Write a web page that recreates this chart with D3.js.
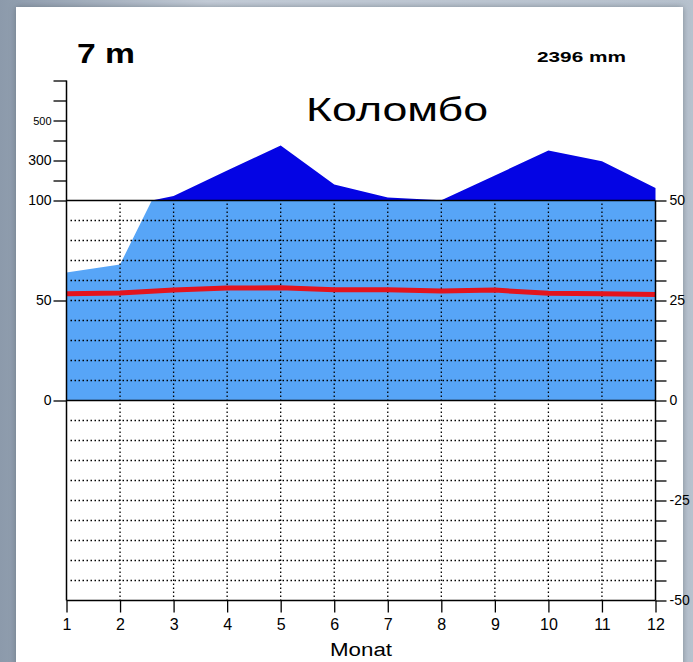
<!DOCTYPE html>
<html>
<head>
<meta charset="utf-8">
<script src="https://cdn.jsdelivr.net/npm/d3@7"></script>
<style>
  body { margin: 0; padding: 0; overflow: hidden; }
  text { font-family: "Liberation Sans", Arial, sans-serif; fill: #000; }
  .grid line { stroke: #000; stroke-width: 1.3; stroke-dasharray: 1.5,2.5; }
  .axis path, .axis line { stroke: #000; stroke-width: 1.3; }
</style>
</head>
<body>
<div id="vis"></div>
<script>
// climate data
var months = [1, 2, 3, 4, 5, 6, 7, 8, 9, 10, 11, 12];
var precip = [64, 68, 122, 250, 375, 180, 115, 101, 225, 350, 296, 163];   // mm
var temp = [26.7, 26.9, 27.6, 28.1, 28.2, 27.7, 27.7, 27.4, 27.6, 26.8, 26.7, 26.5]; // °C
var highTicks = [100, 200, 300, 400, 500, 600, 700];
var tempTicks = d3.range(-50, 51, 5);

var width = 693,
    height = 662;

var data = months.map(function(m, i) {
    return { m: m, p: precip[i], t: temp[i] };
});

var svg = d3.select('#vis').append('svg')
    .attr('width', width)
    .attr('height', height);

var defs = svg.append('defs');
var bg = defs.append('linearGradient').attr('id', 'bg')
    .attr('x1', 0).attr('y1', 0).attr('x2', 1).attr('y2', 0);
bg.append('stop').attr('offset', '0%').attr('stop-color', '#8c9aab');
bg.append('stop').attr('offset', '30%').attr('stop-color', '#c3ccd7');
bg.append('stop').attr('offset', '100%').attr('stop-color', '#b7c2ce');

var shadow = defs.append('filter').attr('id', 'shadow')
    .attr('x', '-5%').attr('y', '-5%').attr('width', '110%').attr('height', '110%');
shadow.append('feDropShadow').attr('dx', 0).attr('dy', 0)
    .attr('stdDeviation', 3).attr('flood-color', '#55606c').attr('flood-opacity', 0.6);

// frame
svg.append('rect').attr('width', width).attr('height', height).attr('fill', 'url(#bg)');
svg.append('rect')
    .attr('x', 16).attr('y', 7)
    .attr('width', 667).attr('height', 670)
    .attr('fill', '#fff')
    .attr('filter', 'url(#shadow)');

// scales
var xScale = d3.scaleLinear().domain([1, 12]).range([66.5, 655.5]);
var yLow = d3.scaleLinear().domain([0, 100]).range([400.5, 200.5]);   // mm up to 100
var yHigh = d3.scaleLinear().domain([100, 700]).range([200.5, 80.5]); // mm above 100
var yTemp = d3.scaleLinear().domain([-50, 50]).range([600.5, 200.5]);

defs.append('clipPath').attr('id', 'clipLow')
    .append('rect').attr('x', 66).attr('y', 200.5).attr('width', 590).attr('height', 200);
defs.append('clipPath').attr('id', 'clipHigh')
    .append('rect').attr('x', 66).attr('y', 0).attr('width', 590).attr('height', 200.5);

var g = svg.append('g');

// precipitation up to 100 mm
var areaLow = d3.area()
    .x(function(d) { return xScale(d.m); })
    .y0(yLow(0))
    .y1(function(d) { return yLow(d.p); });

g.append('path')
    .datum(data)
    .attr('d', areaLow)
    .attr('fill', '#57a5f7')
    .attr('clip-path', 'url(#clipLow)');

// precipitation above 100 mm (compressed)
var areaHigh = d3.area()
    .x(function(d) { return xScale(d.m); })
    .y0(yHigh(100))
    .y1(function(d) { return yHigh(d.p); });

g.append('path')
    .datum(data)
    .attr('d', areaHigh)
    .attr('fill', '#0404e4')
    .attr('clip-path', 'url(#clipHigh)');

// dotted grid
var grid = g.append('g').attr('class', 'grid');
grid.selectAll('.h')
    .data(tempTicks.filter(function(d) { return d > -50 && d < 50 && d != 0; }))
    .enter().append('line')
    .attr('x1', xScale(1) + 4)
    .attr('x2', xScale(12) - 2)
    .attr('y1', function(d) { return yTemp(d); })
    .attr('y2', function(d) { return yTemp(d); });
grid.selectAll('.v')
    .data(months.slice(1, 11))
    .enter().append('line')
    .attr('x1', function(d) { return xScale(d); })
    .attr('x2', function(d) { return xScale(d); })
    .attr('y1', yTemp(50) + 3)
    .attr('y2', yTemp(-50));

// temperature
var line = d3.line()
    .x(function(d) { return xScale(d.m); })
    .y(function(d) { return yTemp(d.t); });

g.append('path')
    .datum(data)
    .attr('d', line)
    .attr('fill', 'none')
    .attr('stroke', '#e3141e')
    .attr('stroke-width', 5);

// solid reference lines
[yTemp(50), yTemp(0), yTemp(-50)].forEach(function(y) {
    g.append('line')
        .attr('x1', xScale(1)).attr('x2', xScale(12))
        .attr('y1', y).attr('y2', y)
        .attr('stroke', '#000').attr('stroke-width', 1.5);
});

// left axis (precipitation)
var leftHigh = d3.axisLeft(yHigh)
    .tickValues(highTicks)
    .tickSize(13)
    .tickPadding(2)
    .tickFormat(function(d) { return (d == 100 || d == 300 || d == 500) ? d : ''; });

var lh = svg.append('g')
    .attr('class', 'axis')
    .attr('transform', 'translate(' + xScale(1) + ',0)')
    .call(leftHigh);
lh.select('.domain').remove();
lh.selectAll('text')
    .style('font-size', function(d) { return d == 500 ? '11px' : '14px'; });

var leftLow = d3.axisLeft(yLow)
    .tickValues([0, 50])
    .tickSize(13)
    .tickPadding(2);

var ll = svg.append('g')
    .attr('class', 'axis')
    .attr('transform', 'translate(' + xScale(1) + ',0)')
    .call(leftLow);
ll.select('.domain').remove();
ll.selectAll('text').style('font-size', '14px');

svg.append('line')
    .attr('x1', xScale(1)).attr('x2', xScale(1))
    .attr('y1', yHigh(700)).attr('y2', yTemp(-50))
    .attr('stroke', '#000').attr('stroke-width', 1.5);

// right axis (temperature)
var rightAxis = d3.axisRight(yTemp)
    .tickValues(tempTicks)
    .tickSize(11)
    .tickPadding(3)
    .tickFormat(function(d) { return d % 25 == 0 ? d : ''; });

var ra = svg.append('g')
    .attr('class', 'axis')
    .attr('transform', 'translate(' + xScale(12) + ',0)')
    .call(rightAxis);
ra.select('.domain').remove();
ra.selectAll('text').style('font-size', '14px');

svg.append('line')
    .attr('x1', xScale(12)).attr('x2', xScale(12))
    .attr('y1', yTemp(50)).attr('y2', yTemp(-50))
    .attr('stroke', '#000').attr('stroke-width', 1.5);

// bottom axis (months)
var xAxis = d3.axisBottom(xScale)
    .tickValues(months)
    .tickSize(12)
    .tickPadding(6)
    .tickFormat(d3.format('d'));

var xa = svg.append('g')
    .attr('class', 'axis')
    .attr('transform', 'translate(0,' + yTemp(-50) + ')')
    .call(xAxis);
xa.select('.domain').remove();
xa.selectAll('text').style('font-size', '16px');

svg.append('text')
    .attr('x', 330).attr('y', 656)
    .attr('textLength', 62).attr('lengthAdjust', 'spacingAndGlyphs')
    .style('font-size', '18px')
    .text('Monat');

// header texts
svg.append('text')
    .attr('x', 77).attr('y', 63)
    .attr('textLength', 58).attr('lengthAdjust', 'spacingAndGlyphs')
    .style('font-size', '28px').style('font-weight', 'bold')
    .text('7 m');

svg.append('text')
    .attr('x', 537).attr('y', 62)
    .attr('textLength', 89).attr('lengthAdjust', 'spacingAndGlyphs')
    .style('font-size', '15px').style('font-weight', 'bold')
    .text('2396 mm');

svg.append('text')
    .attr('x', 306).attr('y', 121)
    .attr('textLength', 182).attr('lengthAdjust', 'spacingAndGlyphs')
    .style('font-size', '33px')
    .text('Коломбо');
</script>
</body>
</html>
